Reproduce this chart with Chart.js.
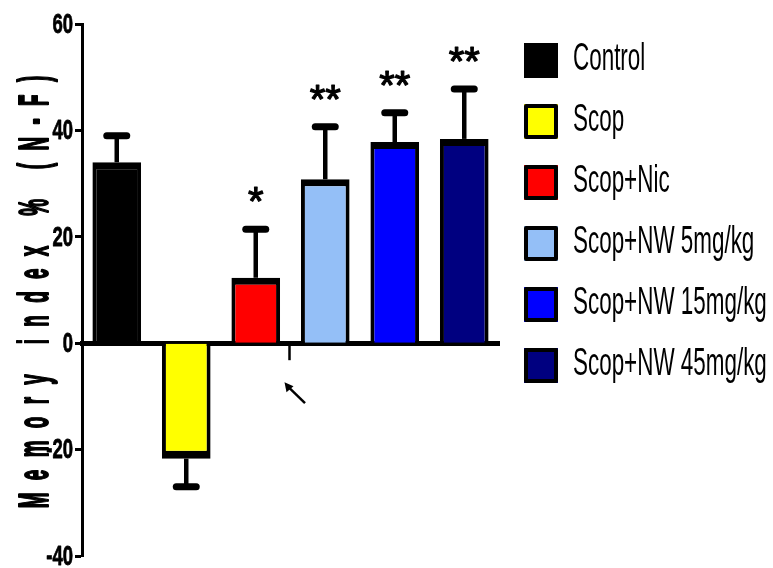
<!DOCTYPE html>
<html>
<head>
<meta charset="utf-8">
<script src="https://cdn.jsdelivr.net/npm/chart.js@4"></script>
<style>
  html, body { margin: 0; padding: 0; background: #ffffff; }
  #wrap { width: 773px; height: 568px; }
</style>
</head>
<body>
<div id="wrap"><canvas id="c" width="773" height="568"></canvas></div>
<script>
// Treatment groups and memory index (mean, SEM)
const groups = ['Control', 'Scop', 'Scop+Nic', 'Scop+NW 5mg/kg', 'Scop+NW 15mg/kg', 'Scop+NW 45mg/kg'];
const meanIndex = [34.0, -21.7, 12.3, 30.8, 37.8, 38.4];
const semIndex = [5.0, 5.3, 9.1, 9.9, 5.5, 9.4];
const signif = ['', '', '*', '**', '**', '**'];
const barColors = ['#000000', '#ffff00', '#ff0000', '#94bff7', '#0000ff', '#000080'];
const yTicks = [60, 40, 20, 0, -20, -40];
const yTitle = 'Memory index % (N-F)';

const FONT = '"Liberation Sans", Arial, sans-serif';

// draw text squeezed horizontally (condensed look), optionally outlined to thicken
function squeezeText(ctx, text, x, y, sx, align, outline) {
  ctx.save();
  ctx.translate(x, y);
  ctx.scale(sx, 1);
  ctx.textAlign = align;
  if (outline) {
    ctx.lineWidth = outline;
    ctx.lineJoin = 'round';
    ctx.strokeText(text, 0, 0);
  }
  ctx.fillText(text, 0, 0);
  ctx.restore();
}

const decor = {
  id: 'decor',
  afterDatasetsDraw(chart) {
    const ctx = chart.ctx;
    const ys = chart.scales.y;
    const meta = chart.getDatasetMeta(0);
    ctx.save();
    ctx.strokeStyle = '#000';
    ctx.fillStyle = '#000';
    // error bars
    meta.data.forEach((bar, i) => {
      const m = meanIndex[i];
      const end = m >= 0 ? m + semIndex[i] : m - semIndex[i];
      const yEnd = ys.getPixelForValue(end);
      ctx.lineCap = 'butt';
      ctx.lineWidth = 4.5;
      ctx.beginPath();
      ctx.moveTo(bar.x, bar.y);
      ctx.lineTo(bar.x, yEnd);
      ctx.stroke();
      ctx.lineCap = 'round';
      ctx.lineWidth = 7;
      ctx.beginPath();
      ctx.moveTo(bar.x - 10, yEnd);
      ctx.lineTo(bar.x + 10, yEnd);
      ctx.stroke();
      // significance stars
      if (signif[i]) {
        ctx.font = '40px ' + FONT;
        ctx.textBaseline = 'alphabetic';
        squeezeText(ctx, signif[i], bar.x, yEnd - 14, 1, 'center', 1.2);
      }
    });
    ctx.restore();
  },
  afterDraw(chart) {
    const ctx = chart.ctx;
    const xs = chart.scales.x, ys = chart.scales.y;
    const area = chart.chartArea;
    ctx.save();
    ctx.fillStyle = '#000';
    ctx.strokeStyle = '#000';

    // y tick labels
    ctx.font = 'bold 28px ' + FONT;
    ctx.textBaseline = 'middle';
    yTicks.forEach(v => {
      squeezeText(ctx, String(v), area.left - 9, ys.getPixelForValue(v) + 1, 0.66, 'right', 0.8);
    });

    // y axis title: condensed, letter-spaced, rotated
    ctx.font = 'bold 43px ' + FONT;
    ctx.textBaseline = 'alphabetic';
    ctx.textAlign = 'left';
    const sx = 0.44;
    const spacing = 12.3;
    const chars = Array.from(yTitle);
    const widths = chars.map(ch => ctx.measureText(ch).width * sx);
    const total = widths.reduce((a, b) => a + b, 0) + spacing * (chars.length - 1);
    ctx.save();
    ctx.translate(48, (area.top + area.bottom) / 2 + 2);
    ctx.rotate(-Math.PI / 2);
    let cx = -total / 2;
    chars.forEach((ch, k) => {
      squeezeText(ctx, ch, cx, 0, sx, 'left', 2);
      cx += widths[k] + spacing;
    });
    ctx.restore();

    // small tick under the axis between third and fourth group, and pointer
    const zero = ys.getPixelForValue(0);
    const bx = (xs.getPixelForValue(2) + xs.getPixelForValue(3)) / 2;
    ctx.lineWidth = 2.5;
    ctx.beginPath();
    ctx.moveTo(bx - 1, zero);
    ctx.lineTo(bx - 1, zero + 17);
    ctx.stroke();
    ctx.beginPath();
    ctx.moveTo(bx - 2, zero + 44);
    ctx.lineTo(bx + 14.5, zero + 60);
    ctx.stroke();
    ctx.beginPath();
    ctx.moveTo(bx - 6, zero + 39);
    ctx.lineTo(bx - 4, zero + 49);
    ctx.lineTo(bx + 3, zero + 43);
    ctx.closePath();
    ctx.fill();

    // legend
    const lx = 524, ly = 43, pitch = 61, bw = 34, bh = 35;
    groups.forEach((g, i) => {
      const top = ly + pitch * i;
      ctx.fillStyle = barColors[i];
      ctx.fillRect(lx, top, bw, bh);
      ctx.lineWidth = 4;
      ctx.lineJoin = 'round';
      ctx.strokeStyle = '#000';
      ctx.strokeRect(lx + 2, top + 2, bw - 4, bh - 4);
      ctx.fillStyle = '#000';
      ctx.font = '39px ' + FONT;
      ctx.textBaseline = 'middle';
      squeezeText(ctx, g, 573, top + 16, 0.575, 'left');
    });
    ctx.restore();
  }
};

new Chart(document.getElementById('c'), {
  type: 'bar',
  data: {
    labels: groups,
    datasets: [{
      data: meanIndex,
      backgroundColor: barColors,
      borderColor: '#000000',
      borderWidth: ctx => (meanIndex[ctx.dataIndex] >= 0
        ? { top: 7, left: 4, right: 4, bottom: 0 }
        : { top: 0, left: 4, right: 4, bottom: 8 }),
      borderSkipped: 'start',
      categoryPercentage: 0.7,
      barPercentage: 1.0
    }]
  },
  options: {
    responsive: false,
    animation: false,
    devicePixelRatio: 1,
    layout: { padding: { left: 75, right: 274, top: 24, bottom: 12 } },
    plugins: { legend: { display: false }, tooltip: { enabled: false } },
    scales: {
      x: {
        position: { y: 0 },
        z: 1,
        ticks: { display: false },
        grid: { display: true, drawOnChartArea: false, drawTicks: false },
        border: { display: true, color: '#000000', width: 5 },
        afterFit: s => { s.height = 0; }
      },
      y: {
        min: -40,
        max: 60,
        ticks: { display: false, stepSize: 20 },
        grid: { drawOnChartArea: false, drawTicks: true, tickLength: 7, tickWidth: 3, tickColor: '#000000' },
        border: { display: true, color: '#000000', width: 3 },
        afterFit: s => { s.width = 7; }
      }
    }
  },
  plugins: [decor]
});
</script>
</body>
</html>
